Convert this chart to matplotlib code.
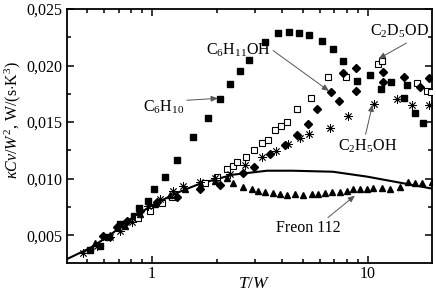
import numpy as np
import matplotlib
matplotlib.use("Agg")
import matplotlib.pyplot as plt
from matplotlib.ticker import FuncFormatter, LogLocator, MultipleLocator, FixedLocator, NullFormatter

plt.rcParams['font.family'] = ['Liberation Serif', 'DejaVu Serif']
plt.rcParams['mathtext.fontset'] = 'custom'
plt.rcParams['mathtext.rm'] = 'Liberation Serif'
plt.rcParams['mathtext.it'] = 'Liberation Serif:italic'
plt.rcParams['mathtext.bf'] = 'Liberation Serif:bold'

# C6H10 (filled squares)
c6h10_x = [0.516, 0.574, 0.626, 0.711, 0.826, 0.871, 0.958, 1.02, 1.15, 1.31, 1.55, 1.82, 2.06, 2.30,
           2.55, 2.81, 3.34, 3.83, 4.31, 4.79, 5.33, 6.12, 6.88, 7.66, 8.89, 10.2, 11.5, 12.8, 14.7,
           15.2, 16.5, 18.0]
c6h10_y = [0.00368, 0.00404, 0.00482, 0.00596, 0.00667, 0.00737, 0.00798, 0.00904, 0.01018, 0.01167,
           0.01368, 0.01535, 0.01702, 0.01833, 0.01956, 0.02053, 0.02211, 0.02289, 0.02298, 0.02289,
           0.02272, 0.02219, 0.02149, 0.02044, 0.01860, 0.01912, 0.01789, 0.01851, 0.01711, 0.01825,
           0.01579, 0.01491]

# C6H11OH (filled diamonds)
c6h11oh_x = [0.593, 0.689, 0.766, 0.880, 1.05, 1.31, 1.67, 2.06, 2.64, 2.97, 3.52, 4.13, 4.69, 5.27,
             5.81, 6.74, 7.34, 7.66, 8.79, 8.79, 11.7, 11.7, 14.7, 17.4, 19.2]
c6h11oh_y = [0.00491, 0.00570, 0.00623, 0.00711, 0.00789, 0.00842, 0.00912, 0.00947, 0.01053, 0.01105,
             0.01219, 0.01298, 0.01386, 0.01482, 0.01614, 0.01763, 0.01684, 0.01930, 0.01982, 0.01772,
             0.01947, 0.01851, 0.01895, 0.01807, 0.01886]

# C2D5OD (open squares)
c2d5od_x = [0.861, 0.979, 1.11, 1.24, 1.76, 2.00, 2.22, 2.37, 2.48, 2.72, 2.97, 3.23, 3.44, 3.71, 3.96,
            4.22, 4.69, 5.45, 6.53, 7.91, 11.1, 11.6, 16.9, 18.8, 19.6]
c2d5od_y = [0.00649, 0.00711, 0.00781, 0.00842, 0.00965, 0.01018, 0.01088, 0.01114, 0.01149, 0.01193,
            0.01254, 0.01316, 0.01342, 0.01430, 0.01465, 0.01500, 0.01614, 0.01711, 0.01895, 0.01895,
            0.02018, 0.02044, 0.01842, 0.01772, 0.01763]

# C2H5OH (asterisks)
c2h5oh_x = [0.479, 0.556, 0.639, 0.711, 0.808, 0.958, 1.09, 1.25, 1.39, 1.67, 1.96, 2.30, 2.70, 3.23,
            3.75, 4.26, 4.84, 5.33, 6.67, 8.08, 10.7, 13.6, 16.0, 19.2]
c2h5oh_y = [0.00342, 0.00404, 0.00482, 0.00535, 0.00614, 0.00754, 0.00816, 0.00895, 0.00939, 0.00974,
            0.01009, 0.01044, 0.01123, 0.01193, 0.01246, 0.01307, 0.01360, 0.01395, 0.01447, 0.01553,
            0.01658, 0.01702, 0.01649, 0.01649]

# Freon 112 (filled triangles)
freon_x = [0.545, 0.639, 0.750, 0.880, 1.03, 1.21, 1.42, 1.67, 1.96, 2.22, 2.37, 2.64, 2.90, 3.10, 3.34,
           3.63, 3.91, 4.22, 4.59, 5.00, 5.51, 5.87, 6.32, 6.81, 7.42, 8.00, 8.52, 9.18, 9.89, 10.5,
           11.6, 12.6, 14.1, 15.3, 16.5, 17.8, 19.8]
freon_y = [0.00430, 0.00500, 0.00579, 0.00684, 0.00772, 0.00851, 0.00904, 0.00939, 0.00982, 0.01009,
           0.00965, 0.00930, 0.00912, 0.00895, 0.00886, 0.00877, 0.00868, 0.00851, 0.00860, 0.00851,
           0.00860, 0.00860, 0.00877, 0.00886, 0.00886, 0.00895, 0.00904, 0.00912, 0.00912, 0.00921,
           0.00921, 0.00912, 0.00930, 0.00974, 0.00965, 0.00965, 0.00974]

# Theory curve (solid line)
theory_x = [0.404, 0.516, 0.639, 0.791, 1.0, 1.28, 1.67, 2.37, 3.41, 4.49, 6.88, 9.89, 14.0, 19.8]
theory_y = [0.00289, 0.00386, 0.00500, 0.00640, 0.00763, 0.00868, 0.00956, 0.01035, 0.01070, 0.01070,
            0.01061, 0.01018, 0.00965, 0.00912]

fig = plt.figure(figsize=(4.36, 2.93), dpi=100)
ax = fig.add_axes([67/436, 1-263/293, (432-67)/436, (263-9)/293])

ax.plot(theory_x, theory_y, color='black', lw=1.5, zorder=2)
ms = 4.0
ax.plot(c6h10_x, c6h10_y, 's', color='black', ms=ms, ls='none', zorder=3)
ax.plot(c2d5od_x, c2d5od_y, 's', mfc='white', mec='black', mew=0.8, ms=ms, ls='none', zorder=3)
ax.plot(c2h5oh_x, c2h5oh_y, marker=(8, 2, 0), color='black', mew=0.6, ms=6.0, ls='none', zorder=3)
ax.plot(c6h11oh_x, c6h11oh_y, 'D', color='black', ms=4.2, ls='none', zorder=4)
ax.plot(freon_x, freon_y, '^', color='black', ms=4.6, ls='none', zorder=4)

ax.set_xscale('log')
ax.set_xlim(0.404, 19.8)
ax.set_ylim(0.00254, 0.025)

ax.xaxis.set_major_locator(FixedLocator([1, 10]))
ax.xaxis.set_major_formatter(FuncFormatter(lambda v, p: f'{v:g}'))
ax.xaxis.set_minor_locator(LogLocator(base=10, subs=np.arange(2, 10)))
ax.xaxis.set_minor_formatter(NullFormatter())
ax.yaxis.set_major_locator(MultipleLocator(0.005))
ax.yaxis.set_minor_locator(MultipleLocator(0.0025))
ax.yaxis.set_major_formatter(FuncFormatter(lambda v, p: f'{v:.3f}'.replace('.', ',')))

ax.tick_params(which='both', direction='in', top=True, right=True, width=1.1, labelsize=11.5)
ax.tick_params(which='major', length=5)
ax.tick_params(which='minor', length=3)
ax.tick_params(axis='x', which='major', pad=2)
ax.tick_params(axis='y', which='major', pad=3)
for s in ax.spines.values():
    s.set_linewidth(1.3)

ax.set_xlabel(r'$T/W$', fontsize=12.5, va='center')
ax.xaxis.set_label_coords(0.512, -0.083)
ax.set_ylabel(r'$\kappa Cv/W^2$, W/(s$\cdot$K$^3$)', fontsize=11.5)
ax.yaxis.set_label_coords(-0.12, 0.565)

akw = dict(arrowstyle='-|>,head_length=0.35,head_width=0.15', color='#555555', lw=0.7, shrinkA=0, shrinkB=0)
fs = 11.5
ax.annotate(r'C$_6$H$_{10}$', xy=(2.02, 0.01710), xytext=(1.13, 0.0163), fontsize=fs,
            ha='center', va='center', arrowprops=dict(akw, relpos=(1.0, 0.9)))
ax.annotate(r'C$_6$H$_{11}$OH', xy=(6.6, 0.01775), xytext=(2.5, 0.02135), fontsize=fs,
            ha='center', va='center', arrowprops=dict(akw, relpos=(1.0, 0.6)))
ax.annotate(r'C$_2$D$_5$OD', xy=(11.2, 0.02060), xytext=(14.0, 0.02300), fontsize=fs,
            ha='center', va='center', arrowprops=dict(akw, relpos=(0.7, 0.0)))
ax.annotate(r'C$_2$H$_5$OH', xy=(10.5, 0.01655), xytext=(10.0, 0.01290), fontsize=fs,
            ha='center', va='center', arrowprops=dict(akw, relpos=(0.45, 1.0)))
ax.annotate('Freon 112', xy=(8.7, 0.00850), xytext=(5.3, 0.00560), fontsize=fs,
            ha='center', va='center', arrowprops=dict(akw, relpos=(0.75, 1.0)))

fig.savefig('out.png', dpi=100)
